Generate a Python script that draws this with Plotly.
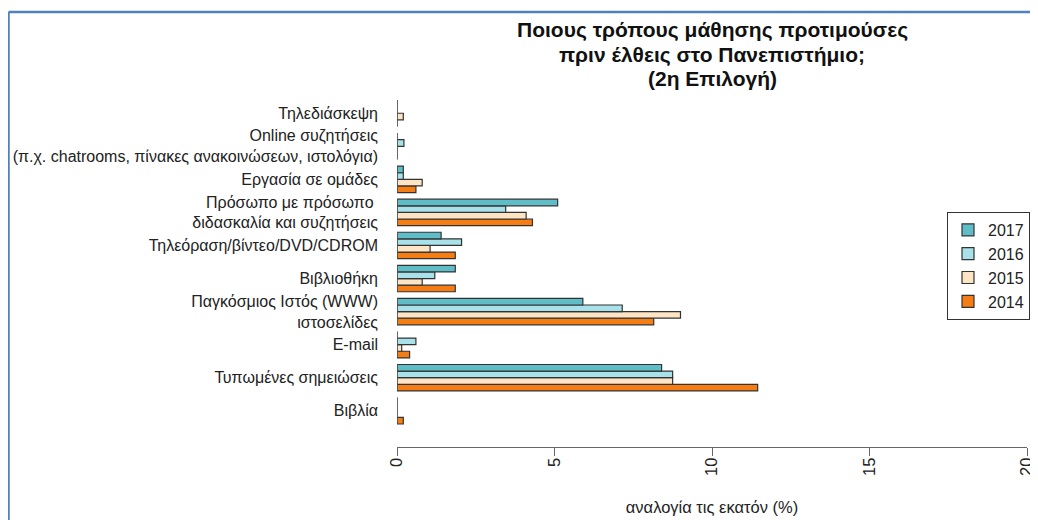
import plotly.graph_objects as go

# Categories listed top to bottom as in the chart
categories = [
    "Τηλεδιάσκεψη",
    "Online συζητήσεις<br>(π.χ. chatrooms, πίνακες ανακοινώσεων, ιστολόγια)",
    "Εργασία σε ομάδες",
    "Πρόσωπο με πρόσωπο <br>διδασκαλία και συζητήσεις",
    "Τηλεόραση/βίντεο/DVD/CDROM",
    "Βιβλιοθήκη",
    "Παγκόσμιος Ιστός (WWW)<br>ιστοσελίδες",
    "E-mail",
    "Τυπωμένες σημειώσεις",
    "Βιβλία",
]
years = ["2017", "2016", "2015", "2014"]
values_2017 = [0.0, 0.0, 0.2, 5.1, 1.4, 1.85, 5.9, 0.0, 8.4, 0.0]
values_2016 = [0.0, 0.22, 0.2, 3.45, 2.05, 1.2, 7.15, 0.6, 8.75, 0.0]
values_2015 = [0.2, 0.0, 0.8, 4.1, 1.05, 0.8, 9.0, 0.15, 8.75, 0.0]
values_2014 = [0.0, 0.0, 0.6, 4.3, 1.85, 1.85, 8.15, 0.4, 11.45, 0.2]
colors = {"2017": "#5FBDC7", "2016": "#A8E1E9", "2015": "#FCE4C4", "2014": "#F57D14"}
x_ticks = [0, 5, 10, 15, 20]
title_lines = ["Ποιους τρόπους μάθησης προτιμούσες", "πριν έλθεις στο Πανεπιστήμιο;", "(2η Επιλογή)"]

series = {"2017": values_2017, "2016": values_2016, "2015": values_2015, "2014": values_2014}
n = len(categories)
ypos = [n - 1 - k for k in range(n)]
bargap = 0.2

fig = go.Figure()
# plotly puts first trace at bottom of group -> add 2014 first
for yr in ["2014", "2015", "2016", "2017"]:
    fig.add_trace(go.Bar(
        x=series[yr], y=ypos, orientation="h", name=yr,
        marker=dict(color=colors[yr], line=dict(color="#333333", width=1.2)),
    ))

# zero baseline segments per group (bar left borders)
half = (1 - bargap) / 2
lx, ly = [], []
for p in ypos:
    lx += [0, 0, None]
    ly += [p - half, p + half, None]
fig.add_trace(go.Scatter(x=lx, y=ly, mode="lines", line=dict(color="#555555", width=1.2),
                         showlegend=False, hoverinfo="skip", cliponaxis=False))

# page body has an 8px margin: figure is 1030x512 placed at (8,8)
W, H = 1030, 512
ml, mr, mt, mb = 389, 11, 69, 73
plot_w = W - ml - mr
plot_h = H - mt - mb

fig.update_layout(
    template="none",
    width=W, height=H,
    margin=dict(l=ml, r=mr, t=mt, b=mb, autoexpand=False),
    paper_bgcolor="white", plot_bgcolor="white",
    barmode="group", bargap=bargap, bargroupgap=0,
    font=dict(family="Liberation Sans, Arial, sans-serif", color="#222222"),
    legend=dict(
        traceorder="reversed",
        x=(plot_w + 3) / plot_w, xanchor="right", y=(H - mb - 204) / plot_h, yanchor="top",
        bordercolor="#333333", borderwidth=1, bgcolor="white",
        font=dict(size=16, color="#222222"),
        itemwidth=30,
    ),
    showlegend=True,
)

# title, one line per annotation to mimic the tight line spacing
for i, line in enumerate(title_lines):
    fig.add_annotation(
        text="<b>" + line + "</b>", xref="paper", yref="paper",
        x=0.5, xanchor="center", y=(H - mb - (22 + 24.5 * i)) / plot_h, yanchor="middle",
        showarrow=False, font=dict(size=21, color="#111111"),
    )

fig.update_yaxes(
    automargin=False,
    range=[-0.4 - 23 / 33.06, n - 1 + 0.4 + 23 / 33.06],
    tickmode="array", tickvals=ypos, ticktext=categories,
    showgrid=False, zeroline=False, showline=False, ticks="",
    tickfont=dict(size=16, color="#222222"),
    ticklabelstandoff=18,
)
fig.update_xaxes(
    automargin=False,
    range=[0, 20], tickmode="array", tickvals=x_ticks, ticktext=[str(v) for v in x_ticks],
    showgrid=False, zeroline=False, showline=True, linecolor="#666666", linewidth=1.2,
    ticks="outside", ticklen=8, tickcolor="#666666", tickwidth=1.2, tickangle=-90,
    tickfont=dict(size=16.5, color="#222222"),
    ticklabelstandoff=-5, ticklabeloverflow="allow",
    title=dict(text="αναλογία τις εκατόν (%)", font=dict(size=16.5, color="#222222"), standoff=26),
)

# blue frame of the original screenshot
frame_color = "#4F81BD"
fx = (0.5 - ml) / plot_w
fy = (H - mb - 4) / plot_h
fig.add_shape(type="line", xref="paper", yref="paper", x0=fx, x1=(W + 10 - ml) / plot_w, y0=fy, y1=fy,
              line=dict(color=frame_color, width=2.5))
fig.add_shape(type="line", xref="paper", yref="paper", x0=fx, x1=fx, y0=fy, y1=-(mb + 10) / plot_h,
              line=dict(color=frame_color, width=2.5))

fig.write_html("out.html")
